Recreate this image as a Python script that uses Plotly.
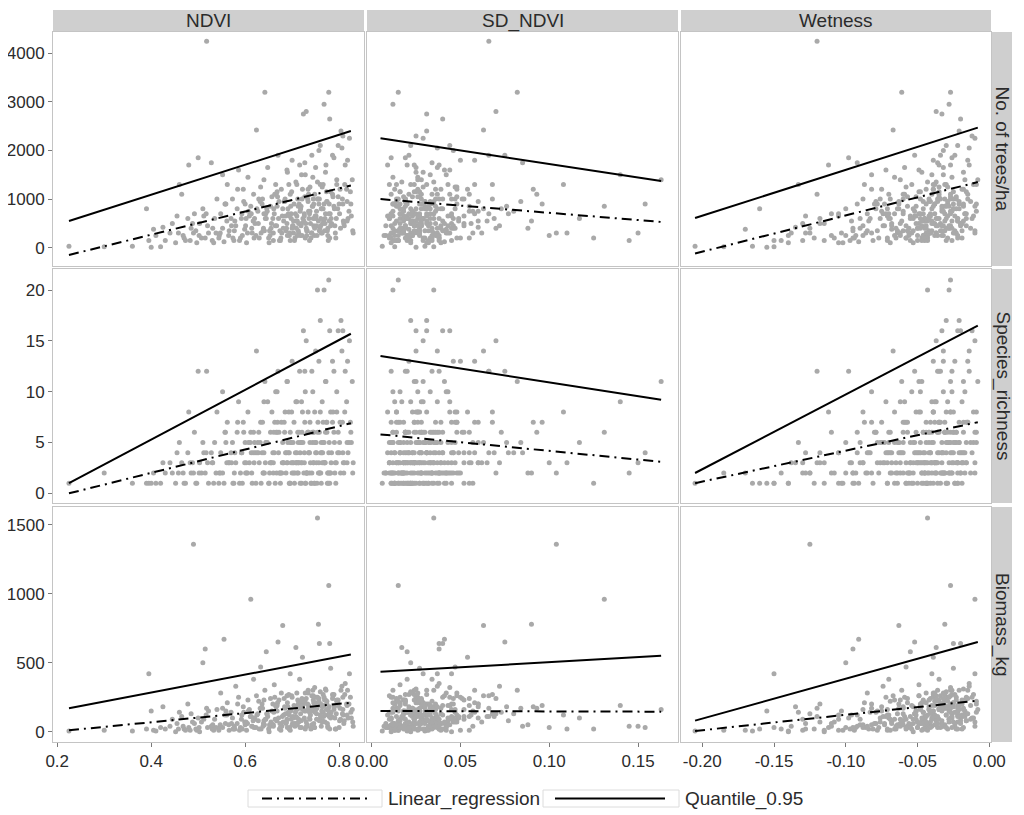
import plotly.graph_objects as go

# ---------------- data (per-plot samples, shared across panels) ----------------
ndvi = [0.225,0.300,0.360,0.390,0.395,0.400,0.405,0.410,0.420,0.425,
        0.430,0.440,0.445,0.455,0.460,0.465,0.470,0.478,0.480,0.485,
        0.490,0.492,0.497,0.500,0.503,0.510,0.515,0.518,0.522,0.528,
        0.530,0.535,0.540,0.545,0.548,0.552,0.555,0.558,0.562,0.566,
        0.570,0.573,0.576,0.580,0.583,0.586,0.590,0.593,0.596,0.599,
        0.600,0.603,0.606,0.609,0.612,0.615,0.618,0.621,0.624,0.627,
        0.630,0.633,0.636,0.639,0.642,0.645,0.648,0.651,0.654,0.657,
        0.660,0.662,0.665,0.667,0.670,0.672,0.675,0.677,0.680,0.682,
        0.685,0.687,0.690,0.692,0.694,0.696,0.698,0.700,0.702,0.704,
        0.706,0.708,0.710,0.712,0.714,0.716,0.718,0.720,0.722,0.724,
        0.726,0.728,0.730,0.732,0.734,0.736,0.738,0.740,0.742,0.744,
        0.746,0.748,0.750,0.752,0.754,0.756,0.758,0.760,0.762,0.764,
        0.766,0.768,0.770,0.772,0.774,0.776,0.778,0.780,0.782,0.784,
        0.786,0.789,0.792,0.795,0.798,0.801,0.804,0.807,0.810,0.813,
        0.816,0.819,0.822,0.825,0.828,0.830,0.818,0.808,0.795,0.826,
        0.552,0.565,0.578,0.588,0.597,0.605,0.611,0.619,0.628,0.637,
        0.641,0.647,0.653,0.659,0.664,0.668,0.673,0.679,0.683,0.688,
        0.691,0.695,0.699,0.703,0.707,0.711,0.715,0.719,0.723,0.727,
        0.731,0.735,0.739,0.743,0.747,0.751,0.755,0.759,0.763,0.767,
        0.771,0.775,0.779,0.783,0.787,0.791,0.797,0.802,0.809,0.817,
        0.602,0.614,0.625,0.634,0.644,0.656,0.666,0.676,0.686,0.697,
        0.709,0.717,0.725,0.733,0.741,0.749,0.757,0.765,0.773,0.781,
        0.452,0.468,0.483,0.495,0.507,0.520,0.533,0.547,0.561,0.574,
        0.640,0.700,0.735,0.690,0.760,0.620,0.780,0.720,0.660,0.800,
        0.705,0.713,0.721,0.729,0.737,0.745,0.753,0.761,0.769,0.777,
        0.512,0.538,0.557,0.571,0.584,0.594,0.607,0.617,0.629,0.638,
        0.646,0.655,0.663,0.671,0.678,0.684,0.689,0.693,0.698,0.701,
        0.708,0.713,0.717,0.721,0.726,0.730,0.734,0.738,0.742,0.746,
        0.750,0.754,0.758,0.762,0.766,0.770,0.774,0.778,0.782,0.786,
        0.790,0.794,0.798,0.803,0.808,0.812,0.817,0.821,0.824,0.829,
        0.601,0.613,0.623,0.632,0.643,0.652,0.661,0.669,0.681,0.694,
        0.703,0.711,0.719,0.728,0.737,0.745,0.752,0.761,0.768,0.776,
        0.458,0.473,0.488,0.502,0.517,0.531,0.544,0.559,0.577,0.592,
        0.650,0.674,0.696,0.714,0.731,0.748,0.764,0.779,0.793,0.811,
        0.640,0.668,0.689,0.710,0.727,0.744,0.757,0.771,0.789,0.806]

sd_ndvi = [0.006,0.013,0.030,0.018,0.045,0.025,0.042,0.020,0.035,0.060,
           0.012,0.150,0.028,0.020,0.010,0.055,0.034,0.016,0.009,0.070,
           0.104,0.025,0.032,0.011,0.045,0.022,0.038,0.066,0.018,0.085,
           0.014,0.029,0.047,0.008,0.023,0.033,0.041,0.012,0.058,0.026,
           0.019,0.036,0.015,0.072,0.028,0.044,0.010,0.031,0.091,0.021,
           0.016,0.039,0.026,0.052,0.131,0.012,0.034,0.024,0.063,0.018,
           0.030,0.047,0.013,0.027,0.082,0.020,0.037,0.011,0.055,0.023,
           0.035,0.016,0.043,0.028,0.075,0.019,0.032,0.048,0.063,0.024,
           0.014,0.041,0.029,0.058,0.022,0.037,0.010,0.050,0.026,0.096,
           0.033,0.017,0.045,0.028,0.062,0.020,0.039,0.013,0.054,0.031,
           0.024,0.042,0.070,0.016,0.035,0.027,0.048,0.011,0.066,0.030,
           0.019,0.044,0.025,0.080,0.035,0.090,0.038,0.022,0.057,0.029,
           0.047,0.012,0.033,0.024,0.060,0.018,0.015,0.040,0.027,0.052,
           0.021,0.036,0.110,0.026,0.044,0.016,0.031,0.068,0.023,0.038,
           0.013,0.049,0.029,0.020,0.163,0.037,0.058,0.025,0.014,0.043,
           0.018,0.027,0.040,0.022,0.033,0.012,0.045,0.020,0.031,0.015,
           0.024,0.036,0.010,0.028,0.052,0.019,0.038,0.023,0.014,0.046,
           0.030,0.017,0.025,0.060,0.021,0.034,0.012,0.043,0.026,0.018,
           0.032,0.055,0.022,0.014,0.037,0.026,0.045,0.019,0.031,0.065,
           0.024,0.013,0.035,0.020,0.048,0.028,0.016,0.039,0.023,0.030,
           0.029,0.017,0.040,0.024,0.011,0.033,0.021,0.050,0.027,0.015,
           0.039,0.023,0.031,0.019,0.042,0.012,0.028,0.036,0.024,0.017,
           0.022,0.036,0.015,0.027,0.048,0.019,0.031,0.011,0.025,0.038,
           0.077,0.088,0.093,0.100,0.108,0.117,0.125,0.140,0.145,0.154,
           0.020,0.040,0.015,0.027,0.034,0.010,0.023,0.046,0.018,0.029,
           0.031,0.017,0.048,0.024,0.036,0.013,0.057,0.028,0.019,0.042,
           0.025,0.034,0.011,0.046,0.022,0.030,0.016,0.068,0.027,0.039,
           0.014,0.032,0.023,0.051,0.018,0.037,0.026,0.012,0.044,0.029,
           0.021,0.040,0.015,0.033,0.024,0.056,0.019,0.035,0.011,0.028,
           0.037,0.018,0.027,0.045,0.013,0.031,0.022,0.060,0.016,0.034,
           0.008,0.066,0.021,0.084,0.035,0.015,0.073,0.026,0.047,0.009,
           0.043,0.018,0.076,0.029,0.011,0.052,0.024,0.069,0.033,0.007,
           0.026,0.015,0.041,0.020,0.033,0.012,0.055,0.027,0.018,0.038,
           0.019,0.030,0.013,0.024,0.038,0.016,0.027,0.049,0.021,0.032,
           0.028,0.016,0.041,0.022,0.034,0.012,0.046,0.025,0.019,0.037]

wetness = [-0.205,-0.185,-0.165,-0.160,-0.150,-0.155,-0.170,-0.140,-0.150,-0.135,
           -0.145,-0.138,-0.130,-0.128,-0.133,-0.120,-0.122,-0.118,-0.112,-0.125,
           -0.125,-0.110,-0.105,-0.098,-0.115,-0.100,-0.095,-0.120,-0.103,-0.092,
           -0.097,-0.090,-0.088,-0.093,-0.085,-0.082,-0.091,-0.080,-0.087,-0.078,
           -0.083,-0.076,-0.081,-0.074,-0.079,-0.072,-0.077,-0.070,-0.075,-0.068,
           -0.073,-0.069,-0.066,-0.071,-0.010,-0.064,-0.070,-0.062,-0.067,-0.060,
           -0.065,-0.058,-0.063,-0.056,-0.061,-0.055,-0.059,-0.053,-0.057,-0.051,
           -0.055,-0.049,-0.054,-0.047,-0.052,-0.046,-0.050,-0.044,-0.063,-0.043,
           -0.048,-0.042,-0.047,-0.041,-0.046,-0.040,-0.045,-0.039,-0.044,-0.038,
           -0.043,-0.037,-0.042,-0.036,-0.041,-0.035,-0.040,-0.034,-0.039,-0.033,
           -0.038,-0.032,-0.037,-0.031,-0.036,-0.030,-0.035,-0.029,-0.034,-0.028,
           -0.033,-0.027,-0.032,-0.026,-0.043,-0.031,-0.025,-0.030,-0.024,-0.029,
           -0.023,-0.028,-0.022,-0.027,-0.021,-0.026,-0.027,-0.020,-0.025,-0.019,
           -0.024,-0.018,-0.023,-0.017,-0.022,-0.016,-0.021,-0.015,-0.020,-0.014,
           -0.019,-0.012,-0.010,-0.009,-0.008,-0.010,-0.015,-0.012,-0.009,-0.011,
           -0.095,-0.088,-0.084,-0.071,-0.079,-0.062,-0.074,-0.058,-0.068,-0.060,
           -0.064,-0.052,-0.062,-0.048,-0.058,-0.051,-0.045,-0.055,-0.041,-0.050,
           -0.053,-0.044,-0.049,-0.040,-0.046,-0.038,-0.044,-0.037,-0.042,-0.035,
           -0.040,-0.033,-0.038,-0.031,-0.036,-0.029,-0.034,-0.028,-0.033,-0.026,
           -0.031,-0.024,-0.029,-0.022,-0.027,-0.020,-0.025,-0.018,-0.022,-0.013,
           -0.076,-0.065,-0.071,-0.054,-0.066,-0.049,-0.060,-0.047,-0.052,-0.039,
           -0.048,-0.032,-0.045,-0.027,-0.041,-0.024,-0.038,-0.020,-0.035,-0.017,
           -0.140,-0.110,-0.130,-0.095,-0.108,-0.088,-0.102,-0.082,-0.096,-0.071,
           -0.060,-0.045,-0.035,-0.050,-0.030,-0.070,-0.022,-0.040,-0.055,-0.018,
           -0.047,-0.034,-0.046,-0.039,-0.026,-0.037,-0.022,-0.032,-0.019,-0.030,
           -0.105,-0.086,-0.092,-0.073,-0.082,-0.066,-0.075,-0.061,-0.069,-0.057,
           -0.064,-0.050,-0.059,-0.045,-0.056,-0.042,-0.051,-0.039,-0.048,-0.036,
           -0.045,-0.033,-0.043,-0.031,-0.041,-0.028,-0.039,-0.027,-0.037,-0.025,
           -0.035,-0.023,-0.033,-0.021,-0.031,-0.019,-0.029,-0.017,-0.027,-0.015,
           -0.025,-0.016,-0.023,-0.013,-0.021,-0.011,-0.018,-0.009,-0.016,-0.010,
           -0.068,-0.072,-0.056,-0.063,-0.053,-0.060,-0.046,-0.057,-0.044,-0.051,
           -0.037,-0.047,-0.030,-0.044,-0.027,-0.042,-0.028,-0.036,-0.021,-0.032,
           -0.128,-0.115,-0.118,-0.100,-0.105,-0.090,-0.094,-0.078,-0.085,-0.069,
           -0.058,-0.053,-0.043,-0.040,-0.033,-0.030,-0.025,-0.022,-0.019,-0.016,
           -0.062,-0.048,-0.049,-0.038,-0.036,-0.026,-0.032,-0.018,-0.026,-0.014]

trees = [30,20,30,800,150,10,380,250,20,420,
         150,300,500,650,1300,1100,200,600,1700,400,
         300,700,100,1850,500,800,200,4250,300,1750,
         150,600,1000,250,700,1500,120,900,1300,350,
         600,1000,150,450,800,1600,200,700,1200,380,
         900,100,1450,650,850,300,1100,500,2420,750,
         200,1250,900,400,3200,600,1650,100,850,1050,
         300,700,1300,450,1900,950,150,1200,800,550,
         1000,350,1550,700,250,1100,600,1800,450,900,
         200,1350,650,1000,300,1700,800,500,1200,2750,
         700,1500,2800,350,950,600,1250,200,1900,850,
         450,1100,1650,750,1350,550,1000,2100,300,1250,
         800,2950,600,1700,950,400,3200,2650,1150,500,
         1900,850,300,1400,2100,700,2400,1000,500,1700,
         1200,600,2250,900,1400,300,1800,2300,1300,650,
         400,250,550,150,950,300,700,200,500,1000,
         350,750,250,600,450,850,150,650,950,400,
         800,300,1150,550,700,250,900,450,600,1050,
         350,750,500,850,250,650,1000,400,800,550,
         700,350,900,600,1050,450,800,1200,550,950,
         600,400,800,300,700,500,1100,200,650,850,
         400,750,550,1000,300,650,900,500,1150,700,
         100,250,150,350,200,450,100,300,550,200,
         700,400,1100,250,1300,600,200,1500,150,900,
         150,350,250,500,150,600,250,450,350,150,
         650,300,900,450,1200,250,750,550,1000,350,
         800,400,1100,600,300,950,500,1300,700,450,
         550,850,250,1000,650,400,1200,750,300,900,
         600,1000,350,800,1300,500,950,700,450,1100,
         800,600,1050,400,900,1300,550,750,1150,350,
         450,700,250,950,600,350,800,1050,400,650,
         300,550,850,200,700,1000,450,600,900,250,
         300,150,500,250,700,400,200,900,350,600,
         200,350,150,500,250,400,300,550,200,450,
         1400,1150,1600,1300,1750,1450,2000,1550,1850,2050]

richness = [1,2,1,1,1,1,2,1,1,3,
            2,3,2,4,5,3,1,4,8,2,
            2,6,1,12,3,5,2,12,1,4,
            3,5,8,2,4,10,1,6,7,3,
            4,5,1,3,6,9,2,4,7,3,
            5,2,8,3,6,1,6,4,14,5,
            3,7,4,2,11,5,9,1,6,8,
            3,4,10,2,12,6,1,7,5,3,
            8,2,11,4,1,6,3,13,5,7,
            2,9,4,6,3,12,5,1,8,16,
            3,10,15,2,6,4,7,1,12,5,
            3,8,14,4,20,2,6,17,1,9,
            5,20,3,11,7,2,21,16,8,4,
            13,6,3,10,16,5,17,7,2,12,
            9,4,15,6,11,3,13,16,8,5,
            2,3,4,1,6,2,5,3,4,7,
            2,5,3,4,1,6,2,3,7,4,
            5,1,8,3,4,2,6,3,5,7,
            2,4,3,6,1,5,7,2,4,3,
            6,1,5,3,8,2,4,7,3,5,
            3,2,4,1,5,3,6,2,4,5,
            3,4,2,6,1,5,3,4,7,2,
            1,2,3,1,2,3,1,2,3,1,
            4,2,6,3,8,5,1,9,2,4,
            1,2,3,1,2,3,1,2,3,1,
            4,2,6,3,7,1,5,4,6,2,
            5,3,7,4,2,6,3,8,5,3,
            3,5,1,6,4,2,8,5,2,6,
            4,6,2,5,7,3,6,4,2,7,
            5,3,6,2,4,8,3,5,7,2,
            2,4,1,5,3,2,6,7,3,4,
            2,3,5,1,4,6,3,4,5,2,
            2,1,3,2,4,3,1,5,2,4,
            1,2,1,3,2,1,3,2,1,3,
            9,10,11,9,12,10,13,11,12,14]

biomass = [5,10,5,20,420,150,10,5,30,180,
           20,40,90,60,140,110,20,200,30,130,
           1360,60,10,100,0,500,600,170,150,40,
           20,90,160,30,280,170,670,60,210,10,
           140,100,20,330,60,250,30,120,180,70,
           50,10,230,160,960,40,380,90,260,130,
           20,470,200,60,300,580,110,0,240,150,
           50,340,190,80,650,230,30,280,770,120,
           170,60,210,140,20,420,90,250,110,190,
           40,610,160,230,70,380,130,30,540,200,
           100,280,240,50,300,170,90,20,260,150,
           60,320,210,130,1550,780,640,290,40,180,
           140,250,70,300,200,30,1060,640,460,110,
           270,160,20,230,190,80,300,130,60,350,
           200,100,420,140,160,40,300,250,220,100,
           30,50,20,10,140,60,110,30,80,170,
           50,130,40,200,90,150,20,110,240,70,
           180,30,260,100,140,50,210,80,160,230,
           40,190,120,170,30,250,200,90,150,110,
           230,60,180,140,260,100,210,170,120,190,
           70,40,120,20,90,60,180,10,130,150,
           60,170,90,200,30,140,220,80,160,110,
           0,40,10,20,70,30,10,50,120,20,
           80,50,170,30,120,100,20,190,40,30,
           60,190,220,150,100,260,170,200,230,120,
           90,30,120,60,200,20,150,80,220,40,
           130,70,250,100,40,180,90,270,160,60,
           110,200,30,240,150,70,280,170,50,210,
           160,250,80,190,270,120,220,150,100,240,
           180,130,230,90,160,270,120,200,250,70,
           60,110,30,170,90,50,140,210,70,120,
           50,100,180,20,140,230,90,110,190,40,
           20,10,70,30,120,50,10,150,40,90,
           20,60,10,90,40,30,70,110,20,80,
           230,190,260,280,220,300,240,310,270,330]

# fitted line end points (x extent per predictor; y per response x predictor)
predictors = ["NDVI", "SD_NDVI", "Wetness"]
responses = ["No. of trees/ha", "Species_richness", "Biomass_kg"]
legend_names = ["Linear_regression", "Quantile_0.95"]
fit_x = [[0.225, 0.825], [0.005, 0.163], [-0.205, -0.008]]
lin_trees = [[-150, 1280], [1000, 530], [-120, 1350]]
q95_trees = [[550, 2400], [2250, 1370], [610, 2470]]
lin_rich = [[0.0, 6.9], [5.8, 3.1], [1.0, 7.0]]
q95_rich = [[1.0, 15.7], [13.5, 9.2], [2.0, 16.5]]
lin_bio = [[10, 210], [150, 145], [5, 225]]
q95_bio = [[170, 560], [435, 550], [80, 650]]

# axis ticks
x_ticks = [[0.2, 0.4, 0.6, 0.8], [0.0, 0.05, 0.10, 0.15], [-0.20, -0.15, -0.10, -0.05, 0.0]]
x_ticktext = [["0.2", "0.4", "0.6", "0.8"], ["0.00", "0.05", "0.10", "0.15"],
              ["-0.20", "-0.15", "-0.10", "-0.05", "0.00"]]
y_ticks = [[0, 1000, 2000, 3000, 4000], [0, 5, 10, 15, 20], [0, 500, 1000, 1500]]

# ---------------- layout geometry (window pixels; page body has an 8px margin) ----------------
OFF = 8
W, H = 1016, 807
col_px = [(53, 364), (367, 678), (681, 991)]
row_px = [(32, 266), (269, 503), (507, 742)]
x_ranges = [[0.191, 0.853], [-0.0026, 0.1725], [-0.2148, 0.0012]]
y_ranges = [[-377, 4438], [-0.95, 22.07], [-75, 1630]]


def px(v):
    return (v - OFF) / W


def py(v):
    return 1 - (v - OFF) / H


xs = [ndvi, sd_ndvi, wetness]
ys = [trees, richness, biomass]
lins = [lin_trees, lin_rich, lin_bio]
q95s = [q95_trees, q95_rich, q95_bio]

FONT = "Liberation Sans, Arial, sans-serif"
TXT = "#2b2b2b"
BORDER = "#c4c4c4"
STRIP = "#cfcfcf"
DASHDOT = "10px,5px,2px,5px"

fig = go.Figure()
layout = dict(width=W, height=H, margin=dict(l=0, r=0, t=0, b=0, autoexpand=False),
              paper_bgcolor="white", plot_bgcolor="white", showlegend=False,
              font=dict(family=FONT, color=TXT, size=17))

for r in range(3):
    for c in range(3):
        k = r * 3 + c + 1
        xn = "x" if k == 1 else f"x{k}"
        yn = "y" if k == 1 else f"y{k}"
        xa = "xaxis" if k == 1 else f"xaxis{k}"
        ya = "yaxis" if k == 1 else f"yaxis{k}"
        x0, x1 = col_px[c]
        y0, y1 = row_px[r]
        layout[xa] = dict(domain=[px(x0), px(x1)], anchor=yn, range=x_ranges[c],
                          automargin=False,
                          showgrid=False, zeroline=False, showline=True, mirror=True,
                          linecolor=BORDER, linewidth=1,
                          tickvals=x_ticks[c], ticktext=x_ticktext[c],
                          showticklabels=(r == 2), ticks="outside" if r == 2 else "",
                          ticklen=4, tickcolor="#7a7a7a",
                          tickfont=dict(size=17, color=TXT))
        layout[ya] = dict(domain=[py(y1), py(y0)], anchor=xn, range=y_ranges[r],
                          automargin=False,
                          showgrid=False, zeroline=False, showline=True, mirror=True,
                          linecolor=BORDER, linewidth=1,
                          tickvals=y_ticks[r],
                          showticklabels=(c == 0), ticks="outside" if c == 0 else "",
                          ticklen=4, tickcolor="#7a7a7a",
                          tickfont=dict(size=17, color=TXT))
        fig.add_trace(go.Scatter(x=xs[c], y=ys[r], mode="markers", xaxis=xn, yaxis=yn,
                                 marker=dict(size=5, color="#a9a9a9"),
                                 showlegend=False, hoverinfo="skip"))
        fig.add_trace(go.Scatter(x=fit_x[c], y=lins[r][c], mode="lines", xaxis=xn, yaxis=yn,
                                 line=dict(color="black", width=2, dash=DASHDOT),
                                 name=legend_names[0], showlegend=False))
        fig.add_trace(go.Scatter(x=fit_x[c], y=q95s[r][c], mode="lines", xaxis=xn, yaxis=yn,
                                 line=dict(color="black", width=2),
                                 name=legend_names[1], showlegend=False))

shapes = []
annotations = []
# top strips
for c, name in enumerate(predictors):
    x0, x1 = col_px[c]
    shapes.append(dict(type="rect", xref="paper", yref="paper",
                       x0=px(x0), x1=px(x1), y0=py(32), y1=py(10),
                       fillcolor=STRIP, line=dict(width=0), layer="below"))
    annotations.append(dict(text=name, xref="paper", yref="paper",
                            x=px((x0 + x1) / 2), y=py(21), showarrow=False,
                            xanchor="center", yanchor="middle",
                            font=dict(size=19, color=TXT, family=FONT)))
# right strips
for r, name in enumerate(responses):
    y0, y1 = row_px[r]
    shapes.append(dict(type="rect", xref="paper", yref="paper",
                       x0=px(992), x1=px(1012), y0=py(y1), y1=py(y0),
                       fillcolor=STRIP, line=dict(width=0), layer="below"))
    annotations.append(dict(text=name, xref="paper", yref="paper",
                            x=px(1002.5), y=py((y0 + y1) / 2), showarrow=False,
                            textangle=90, xanchor="center", yanchor="middle",
                            font=dict(size=19, color=TXT, family=FONT)))

# legend (drawn as key boxes + text at the bottom)
leg_boxes = [(248, 382), (543, 679)]
leg_keys = [(262, 367), (555, 665)]
leg_dash = [DASHDOT, "solid"]
ly0, ly1, lyc = 790, 807, 798.5
for i, name in enumerate(legend_names):
    bx0, bx1 = leg_boxes[i]
    kx0, kx1 = leg_keys[i]
    shapes.append(dict(type="rect", xref="paper", yref="paper",
                       x0=px(bx0), x1=px(bx1), y0=py(ly1), y1=py(ly0),
                       fillcolor="white", line=dict(color="#dcdcdc", width=1)))
    shapes.append(dict(type="line", xref="paper", yref="paper",
                       x0=px(kx0), x1=px(kx1), y0=py(lyc), y1=py(lyc),
                       line=dict(color="black", width=2, dash=leg_dash[i])))
    annotations.append(dict(text=name, xref="paper", yref="paper",
                            x=px(bx1 + 4), y=py(lyc), showarrow=False,
                            xanchor="left", yanchor="middle",
                            font=dict(size=19, color=TXT, family=FONT)))

layout["shapes"] = shapes
layout["annotations"] = annotations
fig.update_layout(**layout)
fig.write_html("out.html")
